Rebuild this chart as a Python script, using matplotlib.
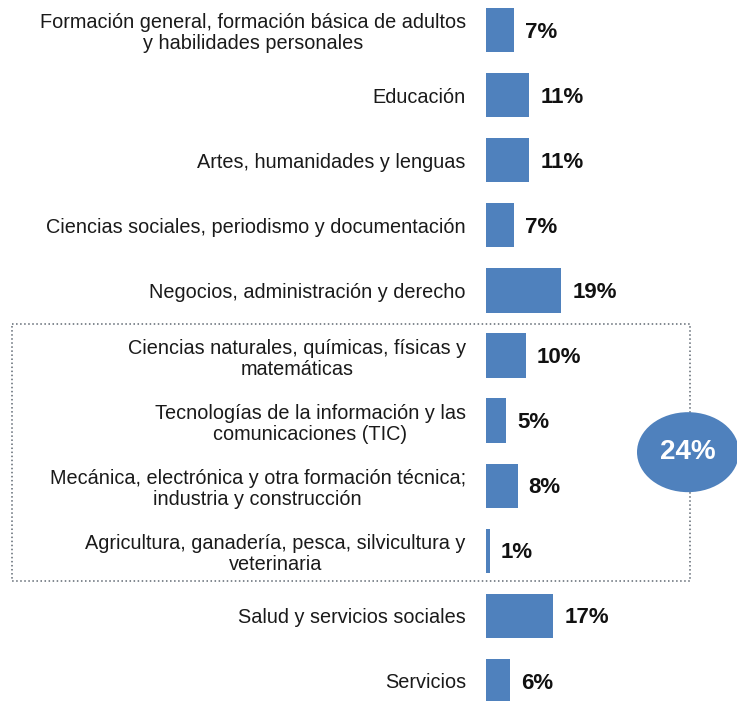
import matplotlib.pyplot as plt
from matplotlib.patches import Rectangle, Ellipse
from matplotlib.transforms import blended_transform_factory

categories = [
    "Formación general, formación básica de adultos\ny habilidades personales",
    "Educación",
    "Artes, humanidades y lenguas",
    "Ciencias sociales, periodismo y documentación",
    "Negocios, administración y derecho",
    "Ciencias naturales, químicas, físicas y\nmatemáticas",
    "Tecnologías de la información y las\ncomunicaciones (TIC)",
    "Mecánica, electrónica y otra formación técnica;\nindustria y construcción",
    "Agricultura, ganadería, pesca, silvicultura y\nveterinaria",
    "Salud y servicios sociales",
    "Servicios",
]
values = [7, 11, 11, 7, 19, 10, 5, 8, 1, 17, 6]
# STEM group framed by the dotted box
group = [5, 6, 7, 8]

plt.rcParams['font.family'] = ['Liberation Sans', 'DejaVu Sans']

W, H = 737, 701
fig = plt.figure(figsize=(W / 100, H / 100), dpi=100)
px_per_pct = 3.95
row = 65.1
top = 30
ax = fig.add_axes([486 / W, 0, (W - 486) / W, 1])
ax.set_xlim(0, (W - 486) / px_per_pct)
ax.set_ylim((H - top) / row, -top / row)

ypos = list(range(len(categories)))
ax.barh(ypos, values, height=0.68, color='#4F81BD')

for y, v in zip(ypos, values):
    ax.annotate(f"{v}%", (v, y), xytext=(8, -1.5), textcoords='offset points',
                ha='left', va='center', fontsize=16, fontweight='bold', color='#111111')

ax.set_yticks(ypos)
ax.set_yticklabels(categories, fontsize=14.3, color='#1a1a1a',
                   multialignment='center', linespacing=1.15)
ax.tick_params(axis='y', length=0, pad=14.5)
ax.set_xticks([])
for s in ax.spines.values():
    s.set_visible(False)

# dotted frame around the group + ellipse with the group total
tr = blended_transform_factory(fig.transFigure, ax.transData)
y0 = min(group) - 0.49
y1 = max(group) + 0.46
ax.add_patch(Rectangle((12 / W, y0), (690 - 12) / W, y1 - y0, transform=tr,
                       fill=False, ec='#5f6872', lw=1.1, ls=':', clip_on=False))
yc = (y0 + y1) / 2
ax.add_patch(Ellipse((688 / W, yc), 102 / W, 80 / row, transform=tr,
                     fc='#4F81BD', ec='none', clip_on=False, zorder=5))
total = sum(values[i] for i in group)
ax.text(688 / W, yc, f"{total}%", transform=tr, ha='center', va='center',
        fontsize=20, fontweight='bold', color='white', zorder=6)

fig.savefig("out.png", dpi=100)
